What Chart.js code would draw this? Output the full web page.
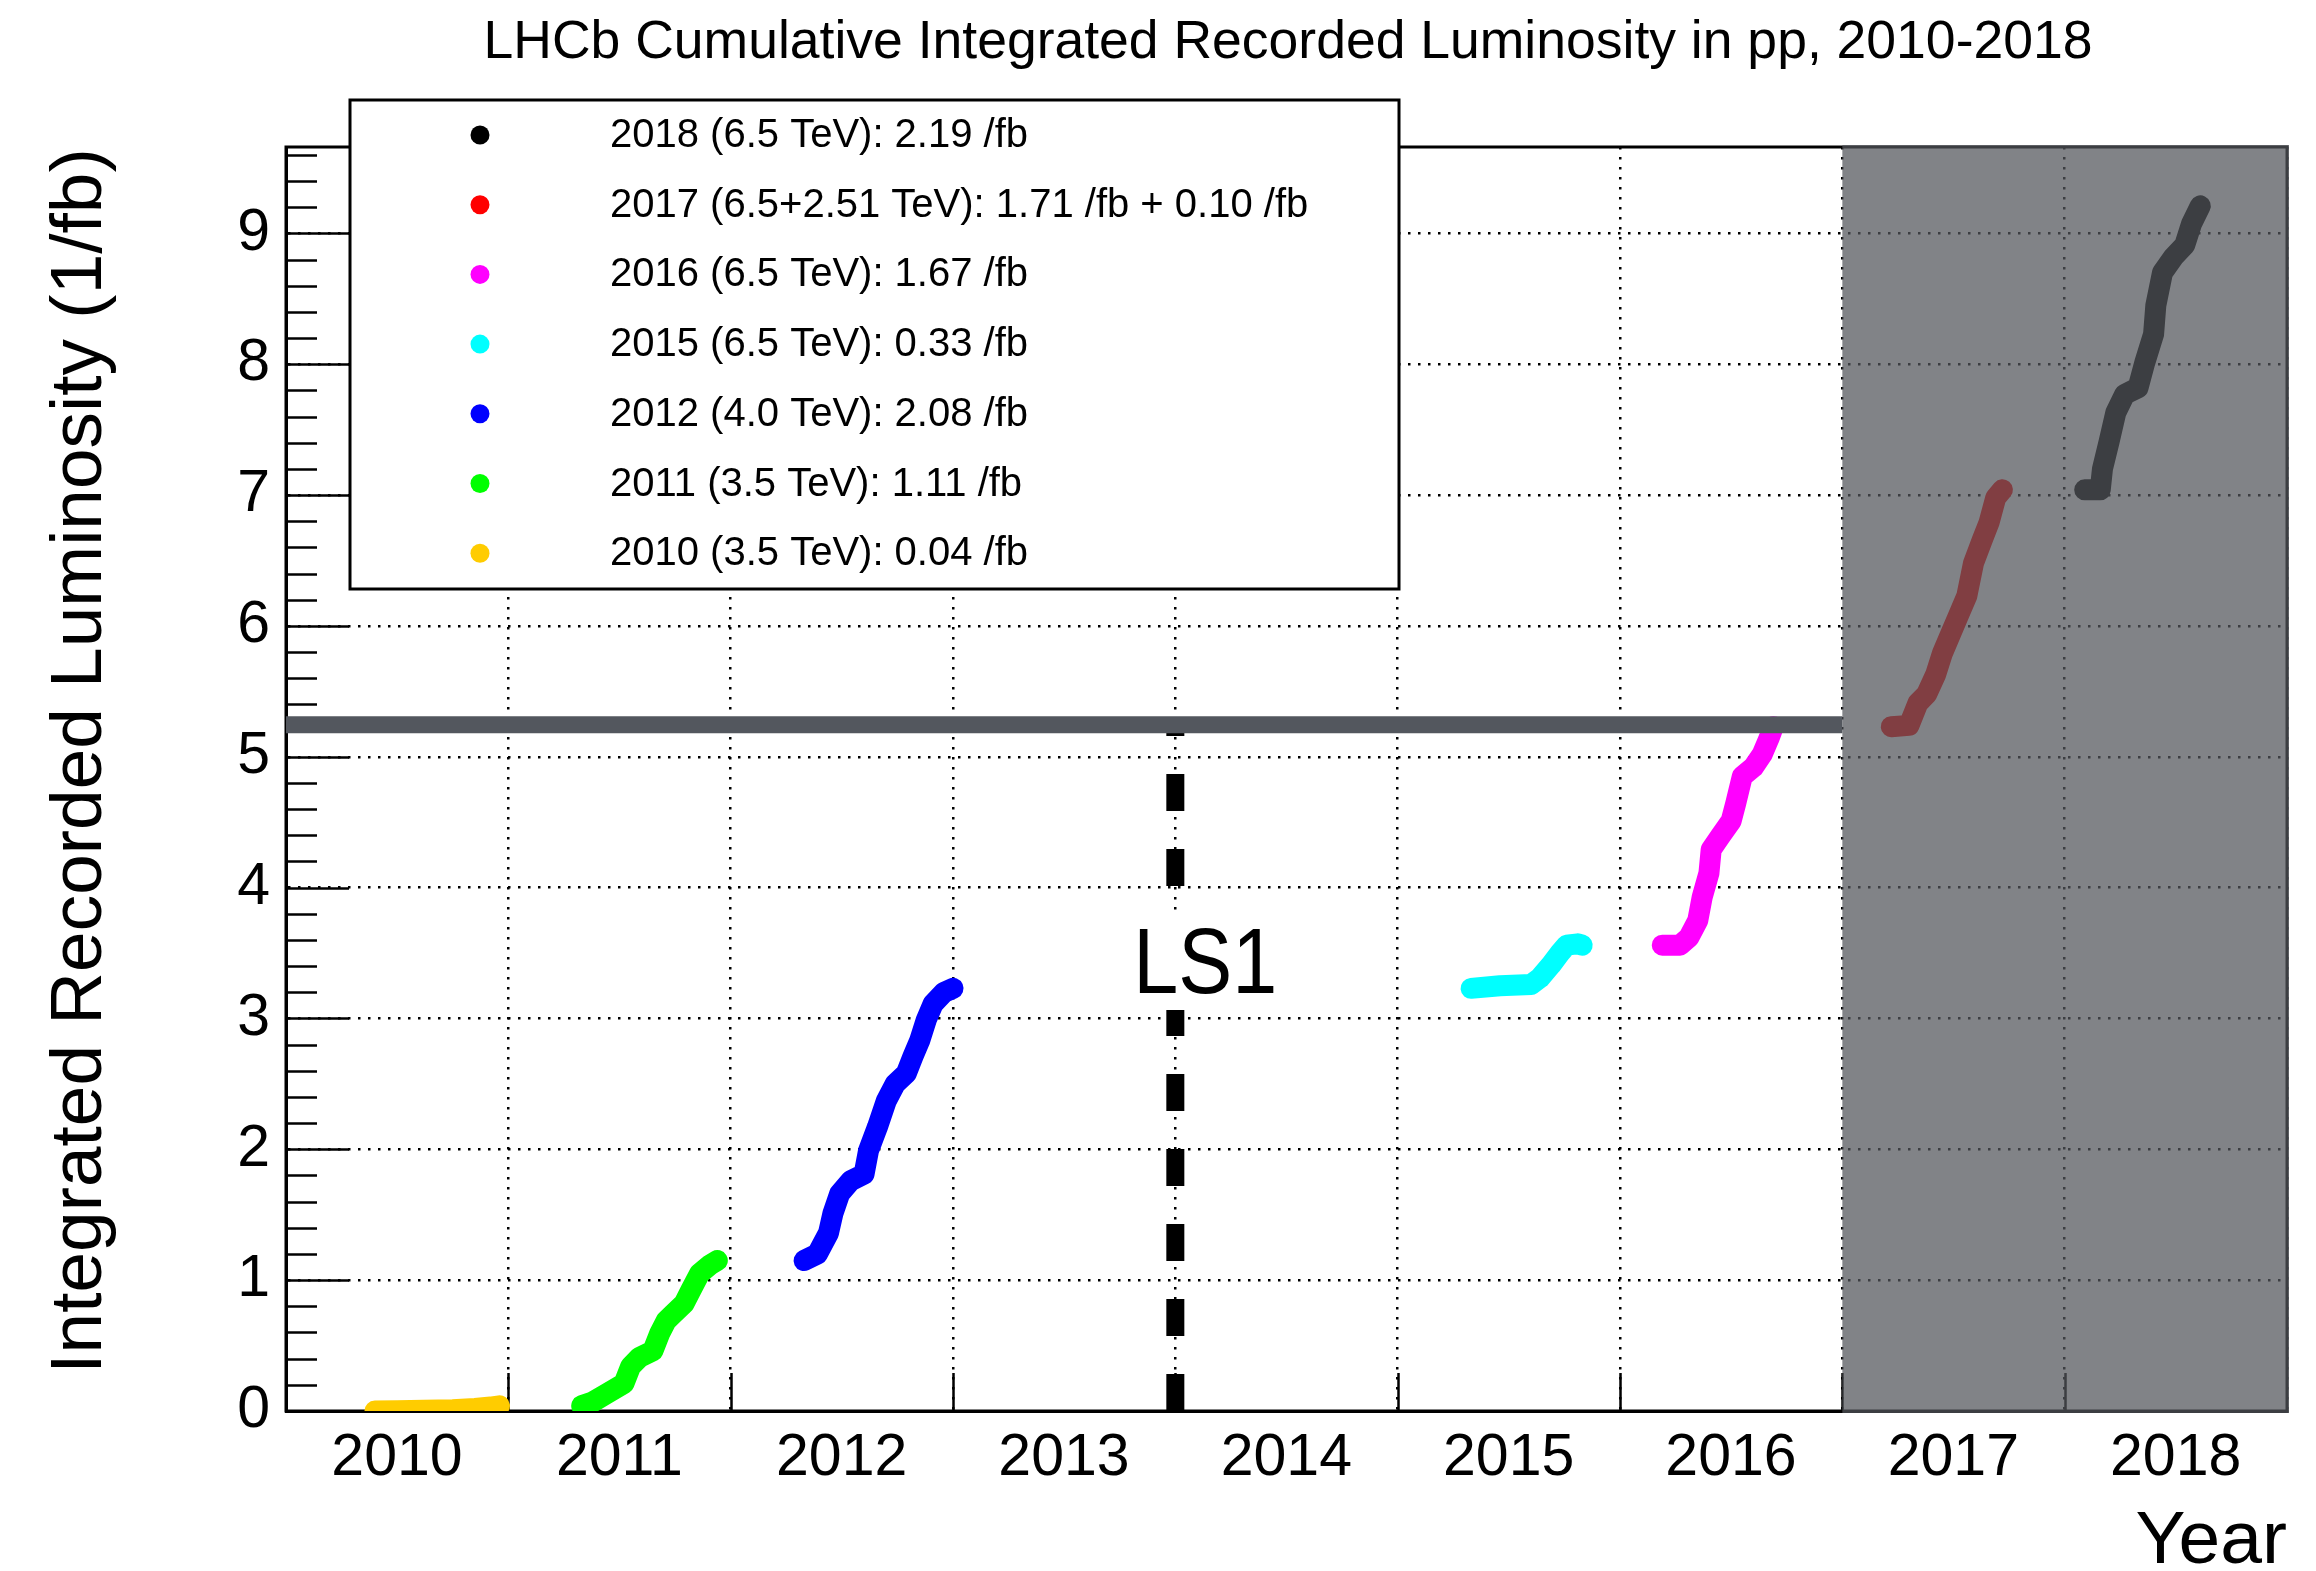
<!DOCTYPE html>
<html><head><meta charset="utf-8">
<script src="https://cdn.jsdelivr.net/npm/chart.js@4.4.1/dist/chart.umd.min.js"></script>
<style>html,body{margin:0;padding:0;background:#fff;}canvas{display:block;}</style>
</head><body>
<canvas id="c" width="2316" height="1571"></canvas>
<script>
const FONT = '"Liberation Sans", Arial, Helvetica, sans-serif';

const chartTitle = 'LHCb Cumulative Integrated Recorded Luminosity in pp, 2010-2018';
const xAxisTitle = 'Year';
const yAxisTitle = 'Integrated Recorded Luminosity (1/fb)';

const xMin = 2010, xMax = 2019;
const yMin = 0, yMax = 9.66;

const seriesLabels = [
  '2010 (3.5 TeV): 0.04 /fb',
  '2011 (3.5 TeV): 1.11 /fb',
  '2012 (4.0 TeV): 2.08 /fb',
  '2015 (6.5 TeV): 0.33 /fb',
  '2016 (6.5 TeV): 1.67 /fb',
  '2017 (6.5+2.51 TeV): 1.71 /fb + 0.10 /fb',
  '2018 (6.5 TeV): 2.19 /fb'
];
const seriesColors = ['#ffcc00', '#00ff00', '#0000ff', '#00ffff', '#ff00ff', '#ff0000', '#000000'];

const t2010 = [2010.40, 2010.50, 2010.62, 2010.75, 2010.85, 2010.92, 2010.96];
const lumi2010 = [0.00, 0.002, 0.005, 0.01, 0.02, 0.03, 0.04];

const t2011 = [2011.33, 2011.38, 2011.44, 2011.52, 2011.55, 2011.59, 2011.65, 2011.68, 2011.71, 2011.74, 2011.79, 2011.82, 2011.86, 2011.91, 2011.94];
const lumi2011 = [0.04, 0.07, 0.13, 0.21, 0.34, 0.41, 0.46, 0.59, 0.69, 0.74, 0.82, 0.92, 1.05, 1.12, 1.15];

const t2012 = [2012.33, 2012.39, 2012.44, 2012.46, 2012.49, 2012.54, 2012.60, 2012.62, 2012.66, 2012.70, 2012.74, 2012.79, 2012.82, 2012.85, 2012.88, 2012.91, 2012.96, 2013.00];
const lumi2012 = [1.15, 1.20, 1.36, 1.51, 1.66, 1.76, 1.81, 1.99, 2.17, 2.37, 2.50, 2.58, 2.71, 2.83, 2.99, 3.11, 3.20, 3.23];

const t2015 = [2015.33, 2015.46, 2015.60, 2015.64, 2015.69, 2015.73, 2015.76, 2015.81, 2015.83];
const lumi2015 = [3.23, 3.25, 3.26, 3.31, 3.41, 3.50, 3.56, 3.57, 3.56];

const t2016 = [2016.19, 2016.27, 2016.31, 2016.35, 2016.37, 2016.40, 2016.41, 2016.45, 2016.50, 2016.52, 2016.55, 2016.60, 2016.64, 2016.67, 2016.69];
const lumi2016 = [3.56, 3.56, 3.62, 3.75, 3.93, 4.11, 4.29, 4.39, 4.51, 4.64, 4.85, 4.92, 5.02, 5.14, 5.23];

const t2017 = [2017.22, 2017.30, 2017.34, 2017.38, 2017.42, 2017.45, 2017.48, 2017.52, 2017.56, 2017.59, 2017.63, 2017.66, 2017.69, 2017.72];
const lumi2017 = [5.23, 5.24, 5.41, 5.48, 5.63, 5.79, 5.91, 6.07, 6.23, 6.48, 6.66, 6.79, 6.98, 7.04];

const t2018 = [2018.09, 2018.16, 2018.17, 2018.20, 2018.23, 2018.27, 2018.33, 2018.36, 2018.40, 2018.41, 2018.44, 2018.49, 2018.54, 2018.57, 2018.61];
const lumi2018 = [7.04, 7.04, 7.20, 7.41, 7.63, 7.77, 7.82, 8.01, 8.23, 8.45, 8.70, 8.82, 8.91, 9.07, 9.21];

const seriesTimes = [t2010, t2011, t2012, t2015, t2016, t2017, t2018];
const seriesLumis = [lumi2010, lumi2011, lumi2012, lumi2015, lumi2016, lumi2017, lumi2018];

const shutdownYear = 2014;
const shutdownLabel = 'LS1';
const shutdownTop = 5.23;
const refLevel = 5.245;
const refStart = 2010, refEnd = 2017;
const shadeStart = 2017;

const datasets = seriesLabels.map((label, i) => ({
  label,
  data: seriesTimes[i].map((t, j) => ({x: t, y: seriesLumis[i][j]})),
  borderColor: seriesColors[i],
  backgroundColor: seriesColors[i],
  borderWidth: 21,
  pointRadius: 0,
  showLine: true,
  tension: 0,
  fill: false,
  borderJoinStyle: 'round',
  borderCapStyle: 'round'
}));

const decor = {
  id: 'decor',
  beforeDraw(chart) {
    const ctx = chart.ctx;
    ctx.save(); ctx.fillStyle = '#fff'; ctx.fillRect(0, 0, chart.width, chart.height); ctx.restore();
  },
  beforeDatasetsDraw(chart) {
    const {ctx, chartArea: a, scales: {x, y}} = chart;
    ctx.save();
    ctx.strokeStyle = '#000';
    ctx.lineWidth = 2.5;
    for (let i = 0; i * 0.2 <= yMax + 1e-9; i++) {
      const v = i / 5;
      const py = Math.round(y.getPixelForValue(v)) + 0.5;
      const major = (i % 5 === 0);
      ctx.beginPath(); ctx.moveTo(a.left, py); ctx.lineTo(a.left + (major ? 63 : 31), py); ctx.stroke();
    }
    for (let yr = xMin + 1; yr < xMax; yr++) {
      const px = Math.round(x.getPixelForValue(yr)) + 0.5;
      ctx.beginPath(); ctx.moveTo(px, a.bottom); ctx.lineTo(px, a.bottom - 38); ctx.stroke();
    }
    ctx.lineWidth = 3;
    ctx.strokeRect(a.left, a.top, a.right - a.left, a.bottom - a.top);
    ctx.restore();
  },
  afterDatasetsDraw(chart) {
    const {ctx, chartArea: a, scales: {x, y}} = chart;
    ctx.save();
    // LS1 dashed line
    const sx = x.getPixelForValue(shutdownYear);
    ctx.strokeStyle = '#000';
    ctx.lineWidth = 18;
    ctx.setLineDash([37, 38]);
    ctx.beginPath(); ctx.moveTo(sx, y.getPixelForValue(0)); ctx.lineTo(sx, y.getPixelForValue(shutdownTop)); ctx.stroke();
    ctx.setLineDash([]);
    // LS1 label
    ctx.fillStyle = '#fff';
    ctx.fillRect(sx - 45, 914, 145, 96);
    ctx.save();
    ctx.translate(sx - 42, 993);
    ctx.scale(0.88, 1);
    ctx.fillStyle = '#000';
    ctx.font = '92px ' + FONT;
    ctx.textAlign = 'left'; ctx.textBaseline = 'alphabetic';
    ctx.fillText(shutdownLabel, 0, 0);
    ctx.restore();
    // reference level line
    ctx.strokeStyle = '#53575e';
    ctx.lineWidth = 17;
    const ry = y.getPixelForValue(refLevel);
    ctx.beginPath(); ctx.moveTo(x.getPixelForValue(refStart), ry); ctx.lineTo(x.getPixelForValue(refEnd), ry); ctx.stroke();
    // shaded region
    const s0 = x.getPixelForValue(shadeStart);
    ctx.fillStyle = 'rgba(82,85,91,0.73)';
    ctx.fillRect(s0, a.top - 2, a.right + 2 - s0, a.bottom - a.top + 4);
    // legend
    const L = {l: 350, t: 100, r: 1399, b: 589};
    ctx.fillStyle = '#fff';
    ctx.fillRect(L.l, L.t, L.r - L.l, L.b - L.t);
    ctx.strokeStyle = '#000'; ctx.lineWidth = 3;
    ctx.strokeRect(L.l, L.t, L.r - L.l, L.b - L.t);
    ctx.font = '40px ' + FONT;
    ctx.textAlign = 'left'; ctx.textBaseline = 'middle';
    const ds = chart.data.datasets.slice().reverse();
    ds.forEach((d, i) => {
      const ly = 135 + i * 69.7;
      ctx.fillStyle = d.borderColor;
      ctx.beginPath(); ctx.arc(480, ly, 9.5, 0, Math.PI * 2); ctx.fill();
      ctx.fillStyle = '#000';
      ctx.fillText(d.label, 610, ly + 1);
    });
    // title
    ctx.fillStyle = '#000';
    ctx.font = '53.5px ' + FONT;
    ctx.textAlign = 'center'; ctx.textBaseline = 'alphabetic';
    ctx.fillText(chartTitle, 1288, 58);
    // x axis title
    ctx.font = '75px ' + FONT;
    ctx.textAlign = 'right';
    ctx.fillText(xAxisTitle, a.right, 1563);
    // y axis title
    ctx.save();
    ctx.translate(81, 761);
    ctx.rotate(-Math.PI / 2);
    ctx.font = '73px ' + FONT;
    ctx.textAlign = 'center'; ctx.textBaseline = 'middle';
    ctx.fillText(yAxisTitle, 0, 0);
    ctx.restore();
    ctx.restore();
  }
};

new Chart(document.getElementById('c'), {
  type: 'scatter',
  data: {datasets},
  plugins: [decor],
  options: {
    responsive: false,
    animation: false,
    devicePixelRatio: 1,
    events: [],
    layout: {padding: {top: 147, right: 29, bottom: 0, left: 0}},
    plugins: {legend: {display: false}, tooltip: {enabled: false}, title: {display: false}},
    scales: {
      x: {
        type: 'linear', min: xMin, max: xMax,
        afterFit: s => { s.height = 160; },
        grid: {color: '#000', lineWidth: 2.5, drawTicks: false},
        border: {display: true, color: '#000', width: 3, dash: [2.5, 7.5]},
        ticks: {
          stepSize: 1, includeBounds: false, autoSkip: false, maxRotation: 0,
          labelOffset: 111, padding: 12, color: '#000',
          font: {family: FONT, size: 59},
          callback: v => (v < xMax ? String(v) : '')
        }
      },
      y: {
        type: 'linear', min: yMin, max: yMax,
        afterFit: s => { s.width = 286; },
        grid: {color: '#000', lineWidth: 2.5, drawTicks: false},
        border: {display: true, color: '#000', width: 3, dash: [2.5, 7.5]},
        ticks: {
          stepSize: 1, includeBounds: false, padding: 16, color: '#000',
          font: {family: FONT, size: 59},
          callback: v => String(v)
        }
      }
    }
  }
});
</script>
</body></html>
